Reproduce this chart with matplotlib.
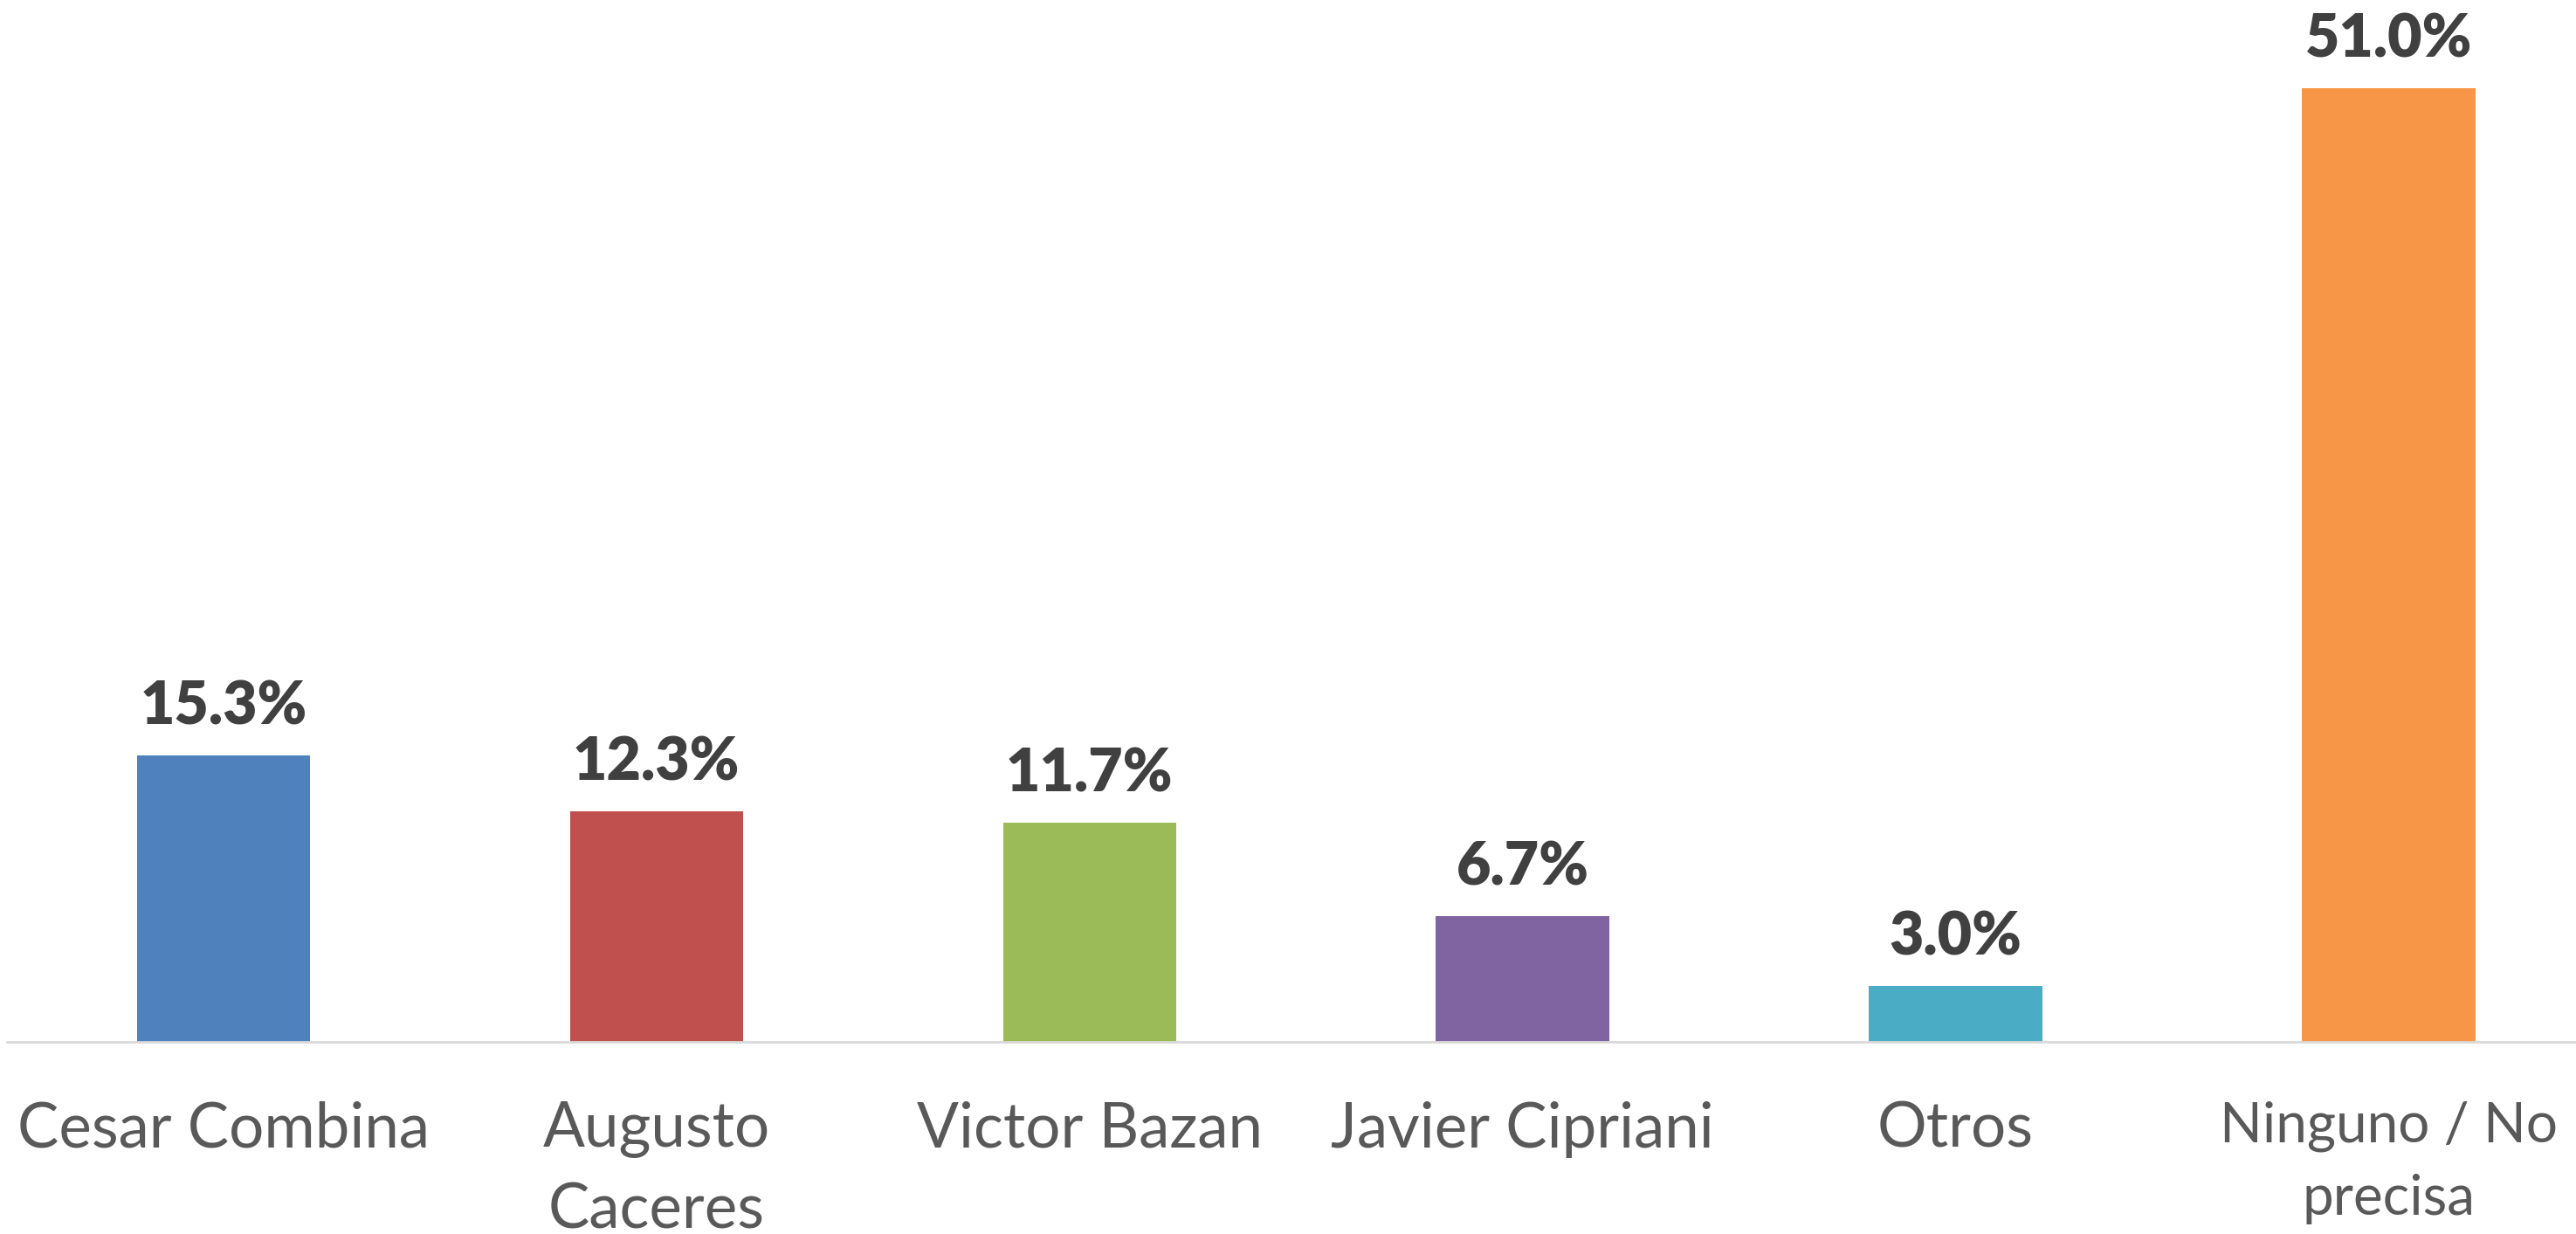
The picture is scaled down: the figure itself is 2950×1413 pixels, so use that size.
import matplotlib
matplotlib.use('Agg')
import matplotlib.pyplot as plt

# Data
candidates = ['Cesar Combina', 'Augusto\nCaceres', 'Victor Bazan',
              'Javier Cipriani', 'Otros', 'Ninguno / No\nprecisa']
shares = [15.3, 12.3, 11.7, 6.7, 3.0, 51.0]
colors = ['#4f81bd', '#c0504d', '#9bbb59', '#8064a2', '#4bacc6', '#f79646']

plt.rcParams['font.family'] = ['Lato', 'DejaVu Sans']

fig = plt.figure(figsize=(29.5, 14.13), dpi=100)
ax = fig.add_axes([0.0027, 0.1558, 1.0086, 0.8335])

x = range(len(candidates))
bars = ax.bar(x, shares, width=0.4, color=colors)

for b, v in zip(bars, shares):
    ax.annotate(f'{v:.1f}%', (b.get_x() + b.get_width() / 2, v),
                xytext=(0, 17), textcoords='offset points',
                ha='center', va='bottom', fontsize=49, fontweight='heavy',
                color='#404040')

ax.set_xlim(-0.5, len(candidates) - 0.5)
ax.set_ylim(0, 55)
ax.set_xticks(list(x))
ax.set_xticklabels(candidates, fontsize=51, color='#595959',
                   multialignment='center', linespacing=1.52)
ax.tick_params(axis='x', length=0, pad=49)
# Lato runs wider than the original font; keep the last label inside the frame
ax.get_xticklabels()[-1].set_fontsize(46)
ax.set_yticks([])

for s in ['top', 'right', 'left']:
    ax.spines[s].set_visible(False)
ax.spines['bottom'].set_color('#d9d9d9')
ax.spines['bottom'].set_linewidth(2)

fig.savefig('out.png', dpi=100)
